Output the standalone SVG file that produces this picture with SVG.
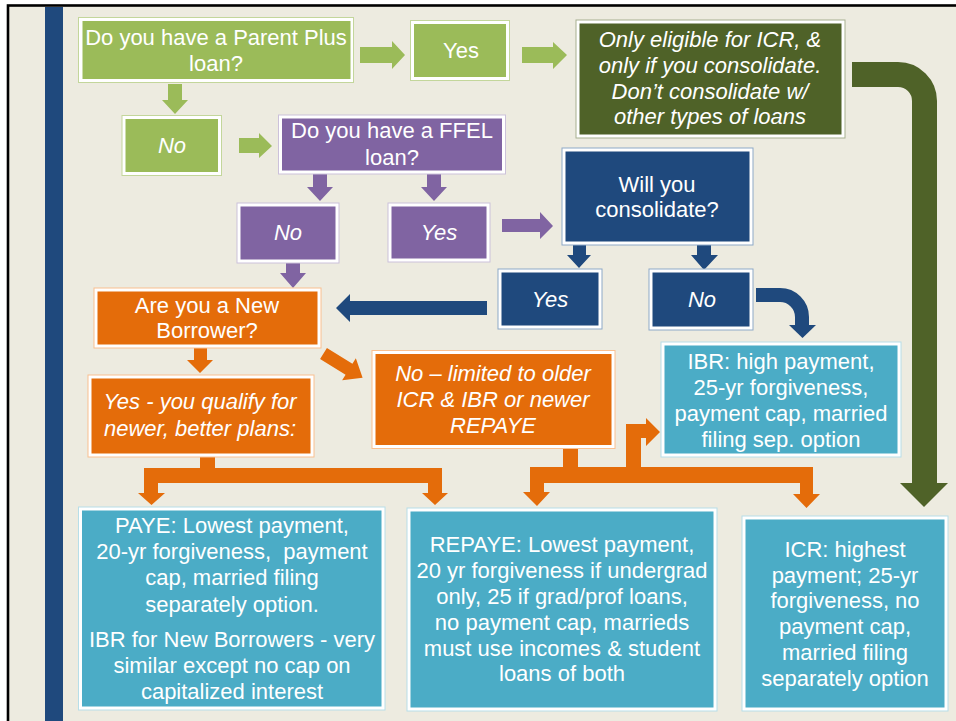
<svg xmlns="http://www.w3.org/2000/svg" width="956" height="721" viewBox="0 0 956 721">
<style>
text{font-family:"Liberation Sans",Arial,sans-serif;font-size:22px;fill:#fff;text-anchor:middle}
.it{font-style:italic}
.edge{fill:#fff;stroke-width:1}
.lg{fill:#9BBB59}.dg{fill:#4F6228}.pu{fill:#8064A2}.nv{fill:#1F497D}.or{fill:#E46C0A}.tl{fill:#4BACC6}
.e-lg{stroke:#C3D69B}.e-dg{stroke:#A7B08F}.e-pu{stroke:#CCC1DA}.e-nv{stroke:#8EA9C7}.e-or{stroke:#FAC090}.e-tl{stroke:#B7DEE8}
</style>
<rect x="0" y="0" width="956" height="721" fill="#fff"/>
<rect x="8" y="5.5" width="970" height="740" fill="#EDEBE0" stroke="#000" stroke-width="2.6"/>
<rect x="45" y="7" width="18" height="714" fill="#1F497D"/>

<g id="connectors">
  <!-- green -->
  <polygon class="lg" points="360,47 392,47 392,41 405,55 392,69 392,63 360,63"/>
  <polygon class="lg" points="522,47 553,47 553,42 567,55 553,69 553,63 522,63"/>
  <polygon class="lg" points="168,84 182,84 182,100 188,100 175,114 162,100 168,100"/>
  <polygon class="lg" points="239,138 259,138 259,133 272,146 259,158 259,153 239,153"/>
  <!-- dark green curved -->
  <path d="M852,74.5 H898 A26.5,26.5 0 0 1 924.5,101 V484" fill="none" stroke="#4F6228" stroke-width="25"/>
  <polygon fill="#4F6228" points="900,483 948,483 924,507"/>
  <!-- purple -->
  <polygon class="pu" points="313,174 327,174 327,187 333,187 320,201 307,187 313,187"/>
  <polygon class="pu" points="427,174 441,174 441,187 447,187 434,201 421,187 427,187"/>
  <polygon class="pu" points="286,263 300,263 300,273 306,273 293,288 280,273 286,273"/>
  <polygon class="pu" points="502,219 540,219 540,212 553,226 540,239 540,232 502,232"/>
  <!-- navy -->
  <polygon class="nv" points="573,245 586,245 586,255 591,255 579,268 567,255 573,255"/>
  <polygon class="nv" points="697,245 711,245 711,255 718,255 704,270 691,255 697,255"/>
  <polygon class="nv" points="487,301 350,301 350,294 336,308 350,322 350,315 487,315"/>
  <path d="M756,295 H780 A22,22 0 0 1 802,317 V326" fill="none" stroke="#1F497D" stroke-width="14"/>
  <polygon class="nv" points="789,325 816,325 802.5,338"/>
  <!-- orange -->
  <polygon class="or" points="194,348 207,348 207,360 213,360 200,373 187,360 194,360"/>
  <polygon class="or" transform="translate(323.5,353.5) rotate(31.8)" points="0,-6.5 30,-6.5 30,-13 46,0 30,13 30,6.5 0,6.5"/>
  <polygon class="or" points="200,457 215,457 215,468 442,468 442,493 448,493 435,505 422,493 428,493 428,483 158,483 158,493 165,493 151.5,505 138,493 144,493 144,468 200,468"/>
  <polygon class="or" points="563,448 578,448 578,467 626,467 626,424 646,424 646,418 660,432 646,446 646,438 641,438 641,467 813,467 813,494 820,494 806.5,508 793,494 800,494 800,483 544,483 544,492 550,492 537,506 523,492 530,492 530,467 563,467"/>
</g>

<g id="n-parentplus">
  <rect class="edge e-lg" x="78.5" y="17.5" width="275" height="65"/>
  <rect class="lg" x="82.5" y="21" width="268" height="58"/>
  <text x="216" y="45">Do you have a Parent Plus</text>
  <text x="216" y="71">loan?</text>
</g>
<g id="n-pp-yes">
  <rect class="edge e-lg" x="410.5" y="20.5" width="99" height="60"/>
  <rect class="lg" x="414" y="24" width="92" height="53"/>
  <text x="461" y="58">Yes</text>
</g>
<g id="n-icr-only">
  <rect class="edge e-dg" x="576" y="20" width="269" height="118"/>
  <rect class="dg" x="579.5" y="23.5" width="262" height="111"/>
  <text class="it" x="710" y="47">Only eligible for ICR, &amp;</text>
  <text class="it" x="710" y="73">only if you consolidate.</text>
  <text class="it" x="710" y="99">Don’t consolidate w/</text>
  <text class="it" x="710" y="124">other types of loans</text>
</g>
<g id="n-pp-no">
  <rect class="edge e-lg" x="122" y="115.5" width="99.5" height="60"/>
  <rect class="lg" x="125.5" y="119" width="92.5" height="53"/>
  <text class="it" x="172" y="153">No</text>
</g>
<g id="n-ffel">
  <rect class="edge e-pu" x="278.5" y="115" width="227" height="59"/>
  <rect class="pu" x="282" y="118.5" width="220" height="52"/>
  <text x="392" y="138">Do you have a FFEL</text>
  <text x="392" y="165">loan?</text>
</g>
<g id="n-ffel-no">
  <rect class="edge e-pu" x="237" y="203" width="102" height="60"/>
  <rect class="pu" x="240.5" y="206.5" width="95" height="53"/>
  <text class="it" x="288" y="240">No</text>
</g>
<g id="n-ffel-yes">
  <rect class="edge e-pu" x="388" y="203" width="102" height="59"/>
  <rect class="pu" x="391.5" y="206.5" width="95" height="52"/>
  <text class="it" x="439" y="240">Yes</text>
</g>
<g id="n-consolidate">
  <rect class="edge e-nv" x="562" y="148" width="191" height="97"/>
  <rect class="nv" x="565.5" y="151.5" width="184" height="90"/>
  <text x="657" y="192">Will you</text>
  <text x="657" y="217">consolidate?</text>
</g>
<g id="n-cons-yes">
  <rect class="edge e-nv" x="498" y="269" width="104" height="60"/>
  <rect class="nv" x="501.5" y="272.5" width="97" height="53"/>
  <text class="it" x="550" y="307">Yes</text>
</g>
<g id="n-cons-no">
  <rect class="edge e-nv" x="649" y="269" width="104" height="61"/>
  <rect class="nv" x="652.5" y="272.5" width="97" height="54"/>
  <text class="it" x="702" y="307">No</text>
</g>
<g id="n-newborrower">
  <rect class="edge e-or" x="94" y="288" width="227" height="60"/>
  <rect class="or" x="97.5" y="291.5" width="220" height="53"/>
  <text x="207" y="313">Are you a New</text>
  <text x="207" y="338">Borrower?</text>
</g>
<g id="n-nb-yes">
  <rect class="edge e-or" x="88" y="375" width="226" height="82"/>
  <rect class="or" x="91.5" y="378.5" width="219" height="75"/>
  <text class="it" x="200" y="409">Yes - you qualify for</text>
  <text class="it" x="200" y="436">newer, better plans:</text>
</g>
<g id="n-nb-no">
  <rect class="edge e-or" x="372" y="350.5" width="243" height="98"/>
  <rect class="or" x="375.5" y="354" width="236" height="91"/>
  <text class="it" x="493" y="381">No – limited to older</text>
  <text class="it" x="493" y="407">ICR &amp; IBR or newer</text>
  <text class="it" x="493" y="433">REPAYE</text>
</g>
<g id="n-ibr">
  <rect class="edge e-tl" x="661" y="342" width="240" height="115"/>
  <rect class="tl" x="664.5" y="345.5" width="233" height="108"/>
  <text x="781" y="369">IBR: high payment,</text>
  <text x="781" y="395">25-yr forgiveness,</text>
  <text x="781" y="421">payment cap, married</text>
  <text x="781" y="447">filing sep. option</text>
</g>
<g id="n-paye">
  <rect class="edge e-tl" x="78.5" y="507" width="306.5" height="203"/>
  <rect class="tl" x="82" y="510.5" width="299.5" height="196"/>
  <text x="232" y="533">PAYE: Lowest payment,</text>
  <text x="232" y="559" xml:space="preserve">20-yr forgiveness,  payment</text>
  <text x="232" y="585">cap, married filing</text>
  <text x="232" y="612">separately option.</text>
  <text x="232" y="647">IBR for New Borrowers - very</text>
  <text x="232" y="673">similar except no cap on</text>
  <text x="232" y="699">capitalized interest</text>
</g>
<g id="n-repaye">
  <rect class="edge e-tl" x="407" y="508" width="310" height="203"/>
  <rect class="tl" x="410.5" y="511.5" width="303" height="196"/>
  <text x="562" y="552">REPAYE: Lowest payment,</text>
  <text x="562" y="578">20 yr forgiveness if undergrad</text>
  <text x="562" y="604">only, 25 if grad/prof loans,</text>
  <text x="562" y="630">no payment cap, marrieds</text>
  <text x="562" y="656">must use incomes &amp; student</text>
  <text x="562" y="681">loans of both</text>
</g>
<g id="n-icr">
  <rect class="edge e-tl" x="742" y="516" width="206" height="195"/>
  <rect class="tl" x="745.5" y="519.5" width="199" height="188"/>
  <text x="845" y="557">ICR: highest</text>
  <text x="845" y="583">payment; 25-yr</text>
  <text x="845" y="608">forgiveness, no</text>
  <text x="845" y="634">payment cap,</text>
  <text x="845" y="660">married filing</text>
  <text x="845" y="686">separately option</text>
</g>
</svg>
